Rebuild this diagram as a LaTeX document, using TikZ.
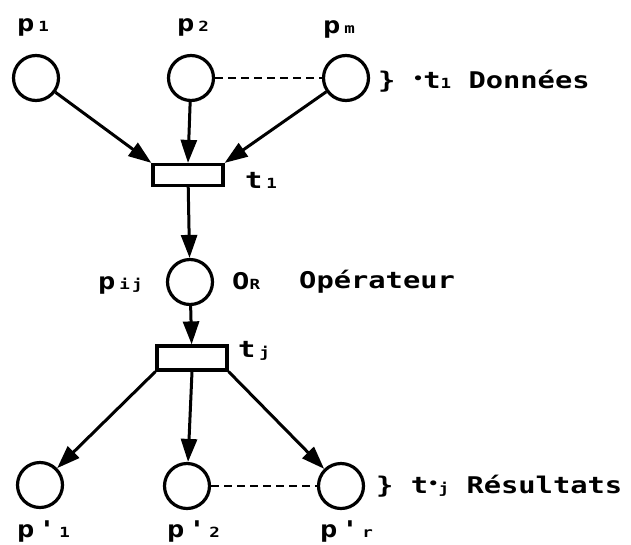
\documentclass[tikz,border=0pt]{standalone}
\usepackage{fontspec}
\newfontfamily\dotfont[FakeStretch=1.25]{DejaVu Sans Mono}
\usetikzlibrary{arrows.meta}

% small index beside a letter
\newcommand\sm[1]{{\fontsize{14}{14}\selectfont #1}}

\tikzset{
    place/.style={circle, draw, line width=3.2pt, minimum size=45pt, inner sep=0pt},
    trans/.style={rectangle, draw, line width=3.2pt, minimum width=70pt, minimum height=21pt, inner sep=0pt},
    lbl/.style={anchor=base west, inner sep=0pt, font=\dotfont\bfseries\fontsize{23}{26}\selectfont},
    flow/.style={line width=3pt, -{Triangle[length=23pt,width=16pt]}},
    link/.style={line width=2.6pt, dash pattern=on 8pt off 5pt}
}

\begin{document}
\begin{tikzpicture}[x=1pt, y=-1pt]
        \useasboundingbox (0,0) rectangle (631,544);

        % input places
        \node[place] (p1) at (36,78) {};
        \node[place] (p2) at (191,78) {};
        \node[place] (pm) at (346,78) {};
        \node[lbl] (lp1) at (17,31) {p\,\sm{1}};
        \node[lbl] (lp2) at (177,31) {p\,\sm{2}};
        \node[lbl] (lpm) at (323,33) {p\,\sm{m}};
        \node[lbl] (ldon) at (378,88) {\}~\raisebox{5pt}{\sm{•}}t\sm{1}~Données};

        \node[trans] (t1) at (188,175) {};
        \node[lbl] (lt1) at (245,188) {t\,\sm{1}};

        \draw[link] (p2) -- (pm);
        \draw[flow] (p1) -- (t1.north west);
        \draw[flow] (p2) -- (t1.north);
        \draw[flow] (pm) -- (t1.north east);

        % operator place
        \node[place] (pij) at (190,282) {};
        \node[lbl] (lpij) at (98,289) {p\,\sm{i\,j}};
        \node[lbl] (lor) at (232,289) {O\sm{R}};
        \node[lbl] (lop) at (299,288) {Opérateur};

        \draw[flow] (t1) -- (pij);

        \node[trans, minimum height=24pt] (tj) at (192,358) {};
        \node[lbl] (ltj) at (238,357) {t\,\sm{j}};

        \draw[flow] (pij) -- (tj);

        % output places
        \node[place] (q1) at (40,485) {};
        \node[place] (q2) at (187,486) {};
        \node[place] (qr) at (341,486) {};
        \node[lbl] (lq1) at (17,537) {p\,'\,\sm{1}};
        \node[lbl] (lq2) at (167,537) {p\,'\,\sm{2}};
        \node[lbl] (lqr) at (320,537) {p\,'\,\sm{r}};
        \node[lbl] (lres) at (376,493) {\}~t\raisebox{5pt}{\sm{•}}\sm{j}~Résultats};

        \draw[link] (q2) -- (qr);
        \draw[flow] (tj.south west) -- (q1);
        \draw[flow] (tj.south) -- (q2);
        \draw[flow] (tj.south east) -- (qr);
    \end{tikzpicture}
\end{document}
